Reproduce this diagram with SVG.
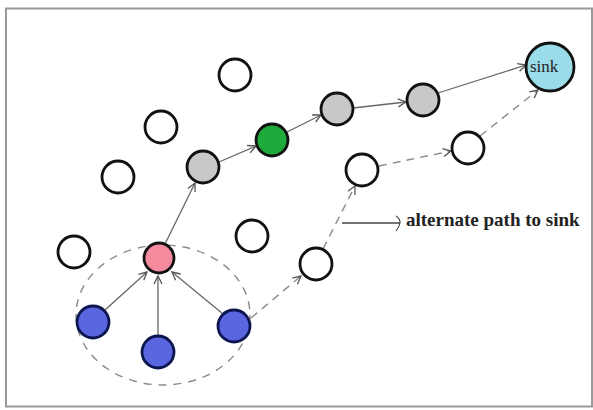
<svg xmlns="http://www.w3.org/2000/svg" width="593" height="410" viewBox="0 0 593 410">
<defs>
<style>
.n{stroke:#111;stroke-width:2.8}
.w{fill:#fff}
.g{fill:#c8c8c8}
.gr{fill:#1faa3c}
.b{fill:#5a66e0;stroke:#0c1650}
.p{fill:#f48a9e}
.s{fill:#9adcea}
.c{fill:none;stroke:#666;stroke-width:1.3}
.d{fill:none;stroke:#8a8a8a;stroke-width:1.4;stroke-dasharray:8,6}
.t{font-family:"Liberation Serif","Times New Roman",serif}
</style>
<marker id="ah" viewBox="0 0 10 10" refX="9" refY="5" markerWidth="10" markerHeight="10" markerUnits="userSpaceOnUse" orient="auto">
<path d="M1,1 L9,5 L1,9" fill="none" stroke="#555" stroke-width="1.3"/>
</marker>
<marker id="ah2" viewBox="0 0 10 24" refX="8" refY="12" markerWidth="8" markerHeight="22" markerUnits="userSpaceOnUse" orient="auto">
<path d="M3,3 Q9,8 8,12 Q7,17 3,22" fill="none" stroke="#333" stroke-width="1.3"/>
</marker>
</defs>
<rect x="6" y="8.5" width="586" height="398" fill="#fff" stroke="#999" stroke-width="2"/>
<g id="connectors">
<ellipse cx="163" cy="315" rx="87" ry="70" fill="none" stroke="#8a8a8a" stroke-width="1.4" stroke-dasharray="8,7"/>
<line class="c" x1="165" y1="244" x2="195" y2="183" marker-end="url(#ah)"/>
<line class="c" x1="219" y1="162" x2="256" y2="146" marker-end="url(#ah)"/>
<line class="c" x1="287" y1="132" x2="321" y2="115" marker-end="url(#ah)"/>
<line class="c" x1="353" y1="108" x2="406" y2="102" marker-end="url(#ah)"/>
<line class="c" x1="438" y1="93" x2="526" y2="65" marker-end="url(#ah)"/>
<line class="c" x1="105" y1="310" x2="147" y2="272" marker-end="url(#ah)"/>
<line class="c" x1="158" y1="336" x2="158" y2="276" marker-end="url(#ah)"/>
<line class="c" x1="223" y1="314" x2="172" y2="272" marker-end="url(#ah)"/>
<line class="d" x1="251" y1="318" x2="301" y2="276" marker-end="url(#ah)"/>
<line class="d" x1="323" y1="249" x2="355" y2="186" marker-end="url(#ah)"/>
<line class="d" x1="379" y1="166" x2="451" y2="151" marker-end="url(#ah)"/>
<line class="d" x1="480" y1="136" x2="538" y2="90" marker-end="url(#ah)"/>
<line x1="342" y1="223" x2="400" y2="223" stroke="#444" stroke-width="1.3" marker-end="url(#ah2)"/>
</g>
<g id="n1"><circle class="n w" cx="235" cy="75" r="16"/></g>
<g id="n2"><circle class="n w" cx="161" cy="127" r="16"/></g>
<g id="n3"><circle class="n w" cx="118" cy="177" r="16"/></g>
<g id="n4"><circle class="n w" cx="74" cy="252" r="16"/></g>
<g id="n5"><circle class="n w" cx="252" cy="236" r="16"/></g>
<g id="n6"><circle class="n g" cx="203" cy="167" r="16"/></g>
<g id="n7"><circle class="n gr" cx="272" cy="140" r="16"/></g>
<g id="n8"><circle class="n g" cx="337" cy="109" r="16"/></g>
<g id="n9"><circle class="n g" cx="423" cy="100" r="16"/></g>
<g id="n10"><circle class="n w" cx="362" cy="170" r="16"/></g>
<g id="n11"><circle class="n w" cx="468" cy="148" r="16"/></g>
<g id="n12"><circle class="n w" cx="316" cy="264" r="16"/></g>
<g id="n13"><circle class="n p" cx="159" cy="258" r="15"/></g>
<g id="n14"><circle class="n b" cx="93" cy="322" r="16"/></g>
<g id="n15"><circle class="n b" cx="158" cy="352" r="16"/></g>
<g id="n16"><circle class="n b" cx="234" cy="326" r="16"/></g>
<g id="sink"><circle class="n s" cx="550" cy="67" r="24"/><text class="t" x="530" y="72" font-size="17" fill="#222">sink</text></g>
<g id="label"><text class="t" x="406" y="226" font-size="19" font-weight="bold" fill="#222">alternate path to sink</text></g>
</svg>
